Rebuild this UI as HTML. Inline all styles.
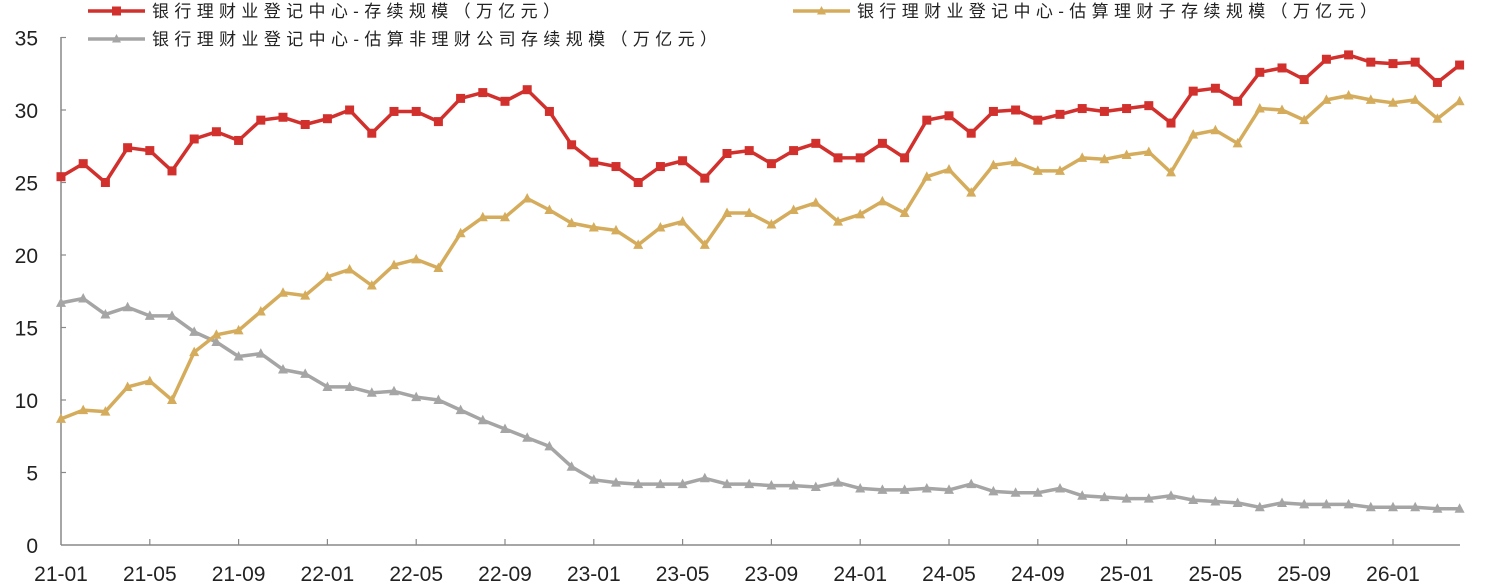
<!DOCTYPE html>
<html><head><meta charset="utf-8"><style>
html,body{margin:0;padding:0;background:#fff;}
svg{display:block;}
text{font-family:"Liberation Sans","Noto Sans CJK SC",sans-serif;}
</style></head><body>
<svg id="c" width="1495" height="584" xmlns="http://www.w3.org/2000/svg"></svg>
<script>
const red=[25.4,26.3,25.0,27.4,27.2,25.8,28.0,28.5,27.9,29.3,29.5,29.0,29.4,30.0,28.4,29.9,29.9,29.2,30.8,31.2,30.6,31.4,29.9,27.6,26.4,26.1,25.0,26.1,26.5,25.3,27.0,27.2,26.3,27.2,27.7,26.7,26.7,27.7,26.7,29.3,29.6,28.4,29.9,30.0,29.3,29.7,30.1,29.9,30.1,30.3,29.1,31.3,31.5,30.6,32.6,32.9,32.1,33.5,33.8,33.3,33.2,33.3,31.9,33.1];
const gold=[8.7,9.3,9.2,10.9,11.3,10.0,13.3,14.5,14.8,16.1,17.4,17.2,18.5,19.0,17.9,19.3,19.7,19.1,21.5,22.6,22.6,23.9,23.1,22.2,21.9,21.7,20.7,21.9,22.3,20.7,22.9,22.9,22.1,23.1,23.6,22.3,22.8,23.7,22.9,25.4,25.9,24.3,26.2,26.4,25.8,25.8,26.7,26.6,26.9,27.1,25.7,28.3,28.6,27.7,30.1,30.0,29.3,30.7,31.0,30.7,30.5,30.7,29.4,30.6];
const gray=[16.7,17.0,15.9,16.4,15.8,15.8,14.7,14.0,13.0,13.2,12.1,11.8,10.9,10.9,10.5,10.6,10.2,10.0,9.3,8.6,8.0,7.4,6.8,5.4,4.5,4.3,4.2,4.2,4.2,4.6,4.2,4.2,4.1,4.1,4.0,4.3,3.9,3.8,3.8,3.9,3.8,4.2,3.7,3.6,3.6,3.9,3.4,3.3,3.2,3.2,3.4,3.1,3.0,2.9,2.6,2.9,2.8,2.8,2.8,2.6,2.6,2.6,2.5,2.5];
const X=i=>61+i*22.2, Y=v=>545-v*14.5;
let s='';
// axes
s+='<line x1="61" y1="37" x2="61" y2="545" stroke="#888" stroke-width="1.5"/>';
s+='<line x1="61" y1="545" x2="1460" y2="545" stroke="#888" stroke-width="1.5"/>';
for(let v=0;v<=35;v+=5){const y=Y(v);
 if(v>0) s+=`<line x1="61" y1="${y}" x2="66" y2="${y}" stroke="#888" stroke-width="1.2"/>`;
 s+=`<text x="38" y="${y+8}" font-size="21" text-anchor="end" fill="#222">${v}</text>`;}
const labs=['21-01','21-05','21-09','22-01','22-05','22-09','23-01','23-05','23-09','24-01','24-05','24-09','25-01','25-05','25-09','26-01'];
labs.forEach((l,k)=>{const x=X(k*4);
 if(k>0) s+=`<line x1="${x}" y1="545" x2="${x}" y2="539" stroke="#888" stroke-width="1.2"/>`;
 s+=`<text x="${x}" y="581" font-size="21" text-anchor="middle" fill="#222">${l}</text>`;});
function series(d,col,mk){
 let p=d.map((v,i)=>X(i).toFixed(1)+','+Y(v).toFixed(1)).join(' ');
 s+=`<polyline points="${p}" fill="none" stroke="${col}" stroke-width="3.5" stroke-linejoin="round"/>`;
 d.forEach((v,i)=>{const x=X(i),y=Y(v);
  if(mk=='sq') s+=`<rect x="${x-4.5}" y="${y-4.5}" width="9" height="9" fill="${col}"/>`;
  else s+=`<polygon points="${x},${y-5.5} ${x-5},${y+4} ${x+5},${y+4}" fill="${col}"/>`;});
}
series(gray,'#a5a5a5','tr');
series(gold,'#d5ac5c','tr');
series(red,'#d1302c','sq');
// legend
function leg(x,y,col,mk,txt,w){
 s+=`<line x1="${x}" y1="${y}" x2="${x+57}" y2="${y}" stroke="${col}" stroke-width="3.5"/>`;
 if(mk=='sq') s+=`<rect x="${x+24}" y="${y-4.5}" width="9" height="9" fill="${col}"/>`;
 else s+=`<polygon points="${x+28.5},${y-5} ${x+24},${y+3.5} ${x+33},${y+3.5}" fill="${col}"/>`;
 s+=`<text x="${x+64}" y="${y+6}" font-size="17" fill="#222" textLength="${w}" lengthAdjust="spacing">${txt}</text>`;
}
leg(88,11,'#d1302c','sq','银行理财业登记中心-存续规模（万亿元）',408);
leg(793,11,'#d5ac5c','tr','银行理财业登记中心-估算理财子存续规模（万亿元）',520);
leg(88,39,'#a5a5a5','tr','银行理财业登记中心-估算非理财公司存续规模（万亿元）',565);
document.getElementById('c').innerHTML=s;
</script>
</body></html>
